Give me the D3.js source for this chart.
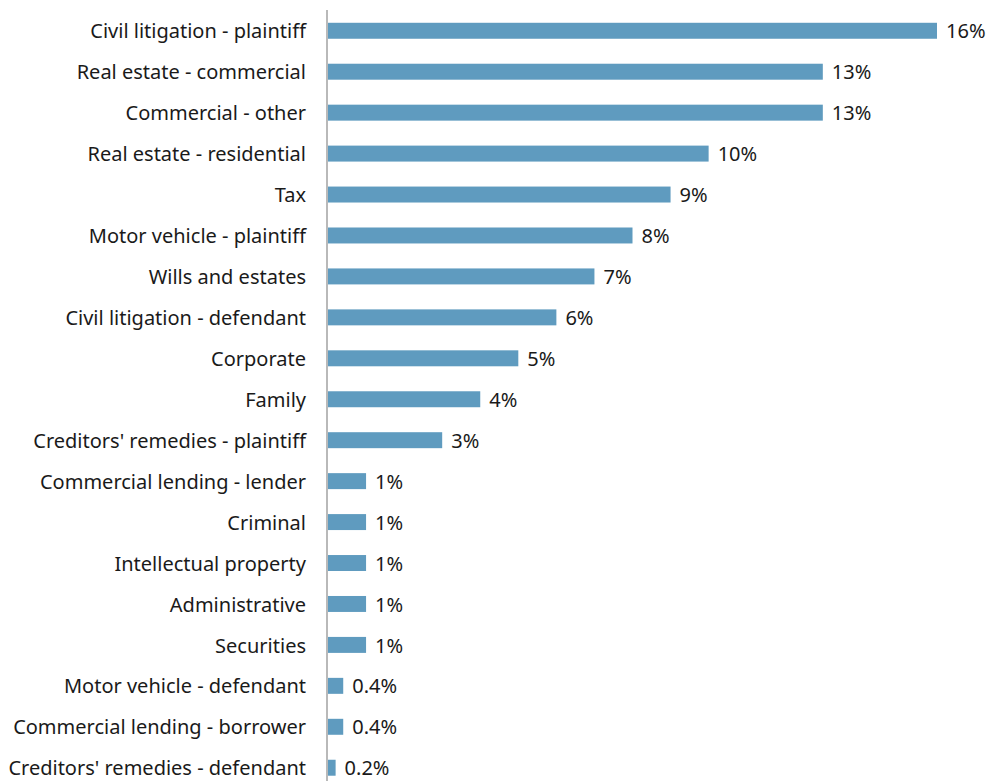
<!DOCTYPE html>
<html><head><meta charset="utf-8">
<script src="https://cdn.jsdelivr.net/npm/d3@7"></script>
<style>body{margin:0;background:#fff;} svg{display:block;}</style>
</head><body>
<script>
const categories = ["Civil litigation - plaintiff","Real estate - commercial","Commercial - other","Real estate - residential","Tax","Motor vehicle - plaintiff","Wills and estates","Civil litigation - defendant","Corporate","Family","Creditors' remedies - plaintiff","Commercial lending - lender","Criminal","Intellectual property","Administrative","Securities","Motor vehicle - defendant","Commercial lending - borrower","Creditors' remedies - defendant"];
const values = [16,13,13,10,9,8,7,6,5,4,3,1,1,1,1,1,0.4,0.4,0.2];
const valueLabels = ["16%","13%","13%","10%","9%","8%","7%","6%","5%","4%","3%","1%","1%","1%","1%","1%","0.4%","0.4%","0.2%"];

const W = 990, H = 781;
const svg = d3.select("body").append("svg").attr("width", W).attr("height", H);
const x = d3.scaleLinear().domain([0, 16]).range([328, 937]);
const y = d3.scaleBand().domain(categories).range([10.5, 788]).paddingInner(0.61).paddingOuter(0.3);

svg.append("g").selectAll("rect").data(values).join("rect")
  .attr("x", x(0)).attr("y", (d,i) => y(categories[i]))
  .attr("width", d => x(d) - x(0)).attr("height", y.bandwidth())
  .attr("fill", "#5f9bbf");

svg.append("line").attr("x1", 327).attr("x2", 327).attr("y1", 10).attr("y2", H)
  .attr("stroke", "#8a8a8a").attr("stroke-width", 1.2);

const font = "'Noto Sans', sans-serif";
svg.append("g").selectAll("text").data(categories).join("text")
  .attr("x", 306).attr("y", d => y(d) + y.bandwidth()/2)
  .attr("dy", "0.38em").attr("text-anchor", "end")
  .attr("font-family", font).attr("font-size", 20).attr("fill", "#1a1a1a")
  .text(d => d);

svg.append("g").selectAll("text").data(values).join("text")
  .attr("x", d => x(d) + 9).attr("y", (d,i) => y(categories[i]) + y.bandwidth()/2)
  .attr("dy", "0.38em")
  .attr("font-family", font).attr("font-size", 20).attr("fill", "#1a1a1a")
  .text((d,i) => valueLabels[i]);
</script>
</body></html>
